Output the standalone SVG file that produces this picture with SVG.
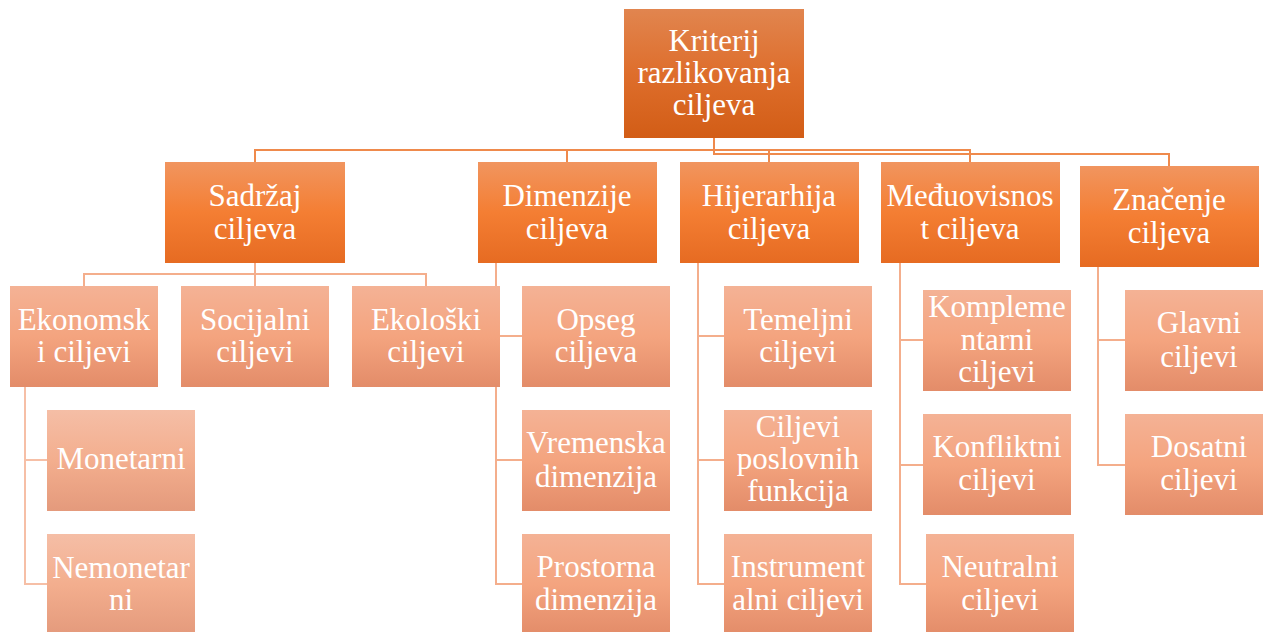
<svg xmlns="http://www.w3.org/2000/svg" width="1263" height="632" viewBox="0 0 1263 632">
<defs>
<linearGradient id="gRoot" x1="0" y1="0" x2="0" y2="1">
<stop offset="0" stop-color="#E1854F"/><stop offset="0.5" stop-color="#DE6E2C"/><stop offset="1" stop-color="#D25D16"/>
</linearGradient>
<linearGradient id="gL2" x1="0" y1="0" x2="0" y2="1">
<stop offset="0" stop-color="#F1955F"/><stop offset="0.5" stop-color="#F47E33"/><stop offset="1" stop-color="#E66B22"/>
</linearGradient>
<linearGradient id="gL3" x1="0" y1="0" x2="0" y2="1">
<stop offset="0" stop-color="#F4B295"/><stop offset="0.5" stop-color="#F4A47F"/><stop offset="1" stop-color="#E38C69"/>
</linearGradient>
<linearGradient id="gL4" x1="0" y1="0" x2="0" y2="1">
<stop offset="0" stop-color="#F5BEA6"/><stop offset="0.5" stop-color="#F3AE8E"/><stop offset="1" stop-color="#E49A7C"/>
</linearGradient>
</defs>
<style>
.t text{font-size:31px;fill:#FFFFFF;text-anchor:middle}
.c1{fill:none;stroke:#EF8A4C;stroke-width:2}
.c2{fill:none;stroke:#F4AE8C;stroke-width:2}
.c3{fill:none;stroke:#F6BFA6;stroke-width:2}
.r0{fill:url(#gRoot)}
.r2{fill:url(#gL2)}
.r3{fill:url(#gL3)}
.r4{fill:url(#gL4)}
</style>
<rect width="1263" height="632" fill="#FFFFFF"/>
<g id="connectors">
<path class="c1" d="M714,138 V150 H255 V162"/>
<path class="c1" d="M714,150 H567 V162"/>
<path class="c1" d="M714,150 H769 V162"/>
<path class="c1" d="M714,150 H970 V162"/>
<path class="c1" d="M714,138 V154 H1169 V166"/>
<path class="c2" d="M255,263 V274 H84 V286"/>
<path class="c2" d="M255,274 V286"/>
<path class="c2" d="M255,274 H426 V286"/>
<path class="c2" d="M496,263 V584 H522"/>
<path class="c2" d="M496,336 H522"/>
<path class="c2" d="M496,460 H522"/>
<path class="c2" d="M698,263 V584 H724"/>
<path class="c2" d="M698,336 H724"/>
<path class="c2" d="M698,460 H724"/>
<path class="c2" d="M900,263 V584 H926"/>
<path class="c2" d="M900,340 H923"/>
<path class="c2" d="M900,465 H923"/>
<path class="c2" d="M1098,267 V465 H1125"/>
<path class="c2" d="M1098,340 H1125"/>
<path class="c3" d="M25,387 V584 H47"/>
<path class="c3" d="M25,460 H47"/>
</g>
<g class="t" font-family="'Liberation Serif', 'DejaVu Serif', serif">
<g id="root">
<rect class="r0" x="624" y="9" width="180" height="129"/>
<text x="714" y="51" font-size="29">Kriterij</text>
<text x="714" y="83" font-size="29">razlikovanja</text>
<text x="714" y="115" font-size="29">ciljeva</text>
</g>
<g id="sadrzaj">
<rect class="r2" x="165" y="162" width="180" height="101"/>
<text x="255" y="206">Sadržaj</text>
<text x="255" y="239">ciljeva</text>
</g>
<g id="dimenzije">
<rect class="r2" x="478" y="162" width="179" height="101"/>
<text x="567" y="206">Dimenzije</text>
<text x="567" y="239">ciljeva</text>
</g>
<g id="hijerarhija">
<rect class="r2" x="680" y="162" width="179" height="101"/>
<text x="769" y="206">Hijerarhija</text>
<text x="769" y="239">ciljeva</text>
</g>
<g id="meduovisnost">
<rect class="r2" x="881" y="162" width="179" height="101"/>
<text x="970" y="206">Međuovisnos</text>
<text x="970" y="239">t ciljeva</text>
</g>
<g id="znacenje">
<rect class="r2" x="1080" y="166" width="179" height="101"/>
<text x="1169" y="210">Značenje</text>
<text x="1169" y="243">ciljeva</text>
</g>
<g id="ekonomski">
<rect class="r3" x="10" y="286" width="148" height="101"/>
<text x="84" y="330">Ekonomsk</text>
<text x="84" y="362">i ciljevi</text>
</g>
<g id="socijalni">
<rect class="r3" x="181" y="286" width="148" height="101"/>
<text x="255" y="330">Socijalni</text>
<text x="255" y="362">ciljevi</text>
</g>
<g id="ekoloski">
<rect class="r3" x="352" y="286" width="148" height="101"/>
<text x="426" y="330">Ekološki</text>
<text x="426" y="362">ciljevi</text>
</g>
<g id="monetarni">
<rect class="r4" x="47" y="410" width="148" height="101"/>
<text x="121" y="469">Monetarni</text>
</g>
<g id="nemonetarni">
<rect class="r4" x="47" y="534" width="148" height="101"/>
<text x="121" y="578">Nemonetar</text>
<text x="121" y="610">ni</text>
</g>
<g id="opseg">
<rect class="r3" x="522" y="286" width="148" height="101"/>
<text x="596" y="330">Opseg</text>
<text x="596" y="362">ciljeva</text>
</g>
<g id="vremenska">
<rect class="r3" x="522" y="410" width="148" height="101"/>
<text x="596" y="453">Vremenska</text>
<text x="596" y="487">dimenzija</text>
</g>
<g id="prostorna">
<rect class="r3" x="522" y="534" width="148" height="101"/>
<text x="596" y="577">Prostorna</text>
<text x="596" y="610">dimenzija</text>
</g>
<g id="temeljni">
<rect class="r3" x="724" y="286" width="148" height="101"/>
<text x="798" y="330">Temeljni</text>
<text x="798" y="362">ciljevi</text>
</g>
<g id="poslovnih">
<rect class="r3" x="724" y="410" width="148" height="101"/>
<text x="798" y="437">Ciljevi</text>
<text x="798" y="469">poslovnih</text>
<text x="798" y="501">funkcija</text>
</g>
<g id="instrumentalni">
<rect class="r3" x="724" y="534" width="148" height="101"/>
<text x="798" y="577">Instrument</text>
<text x="798" y="610">alni ciljevi</text>
</g>
<g id="komplementarni">
<rect class="r3" x="923" y="290" width="148" height="101"/>
<text x="997" y="317">Kompleme</text>
<text x="997" y="350">ntarni</text>
<text x="997" y="382">ciljevi</text>
</g>
<g id="konfliktni">
<rect class="r3" x="923" y="414" width="148" height="101"/>
<text x="997" y="457">Konfliktni</text>
<text x="997" y="490">ciljevi</text>
</g>
<g id="neutralni">
<rect class="r3" x="926" y="534" width="148" height="101"/>
<text x="1000" y="577">Neutralni</text>
<text x="1000" y="610">ciljevi</text>
</g>
<g id="glavni">
<rect class="r3" x="1125" y="290" width="148" height="101"/>
<text x="1199" y="333">Glavni</text>
<text x="1199" y="367">ciljevi</text>
</g>
<g id="dosatni">
<rect class="r3" x="1125" y="414" width="148" height="101"/>
<text x="1199" y="457">Dosatni</text>
<text x="1199" y="490">ciljevi</text>
</g>
</g>
</svg>
